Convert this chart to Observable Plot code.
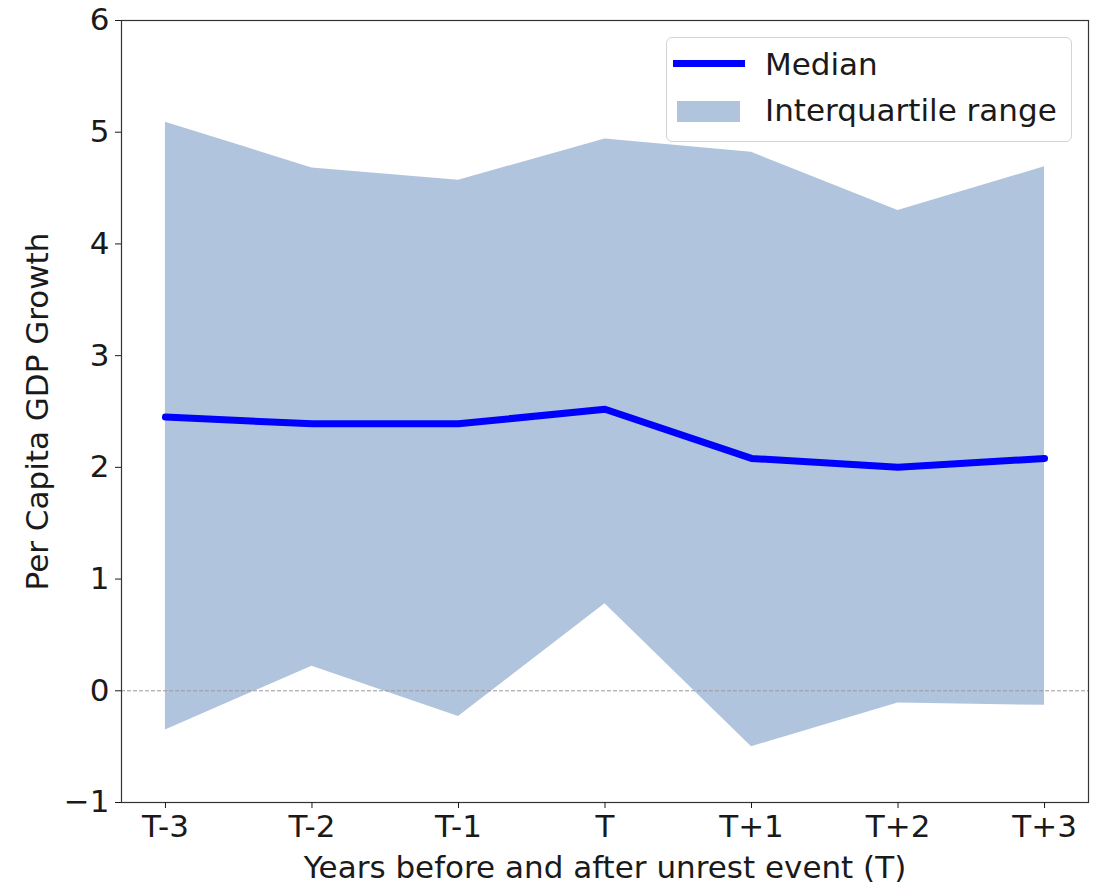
<!DOCTYPE html>
<html>
<head>
<meta charset="utf-8">
<script src="https://cdn.jsdelivr.net/npm/d3@7"></script>
<script src="https://cdn.jsdelivr.net/npm/@observablehq/plot@0.6"></script>
<style>
  body { margin: 0; background: white; font-family: "DejaVu Sans", sans-serif; }
  #wrap { position: relative; width: 1099px; height: 884px; }
  #legend { position: absolute; left: 666px; top: 37px; width: 404px; height: 103px;
    border: 1px solid #d4d4d4; border-radius: 6px; background: rgba(255,255,255,0.85);
    font-family: "DejaVu Sans", sans-serif; font-size: 31px; line-height: 31px; color: #1a1a1a; }
  .sw-line { position: absolute; left: 6px; width: 72px; height: 7px; background: #0000FF; }
  .sw-fill { position: absolute; left: 10px; width: 63px; height: 21px; background: #B0C4DE; }
  .lab { position: absolute; left: 98px; white-space: nowrap; }
</style>
</head>
<body>
<div id="wrap">
  <div id="chart"></div>
  <div id="legend">
    <div class="sw-line" style="top:22px"></div>
    <div class="lab" style="top:11px">Median</div>
    <div class="sw-fill" style="top:63px"></div>
    <div class="lab" style="top:57px">Interquartile range</div>
  </div>
</div>
<script>
const periods = ["T-3", "T-2", "T-1", "T", "T+1", "T+2", "T+3"];
const median = [2.45, 2.39, 2.39, 2.52, 2.08, 2.00, 2.08];
const q25 = [-0.35, 0.22, -0.23, 0.78, -0.50, -0.11, -0.13];
const q75 = [5.09, 4.68, 4.57, 4.94, 4.82, 4.30, 4.69];
const yTicks = [-1, 0, 1, 2, 3, 4, 5, 6];

const data = periods.map((p, i) => ({i, p, med: median[i], lo: q25[i], hi: q75[i]}));
const fmtY = d => d < 0 ? "\u2212" + (-d) : String(d);

const chart = Plot.plot({
  width: 1099,
  height: 884,
  marginLeft: 121,
  marginRight: 11,
  marginTop: 20,
  marginBottom: 82,
  style: {fontFamily: "DejaVu Sans, sans-serif", fontSize: "31px", color: "#1a1a1a", background: "white"},
  x: {domain: [-0.3, 6.3]},
  y: {domain: [-1, 6]},
  marks: [
    Plot.areaY(data, {x: "i", y1: "lo", y2: "hi", fill: "#B0C4DE"}),
    Plot.ruleY([0], {stroke: "#9a9a9a", strokeWidth: 1, strokeDasharray: "4,2"}),
    Plot.lineY(data, {x: "i", y: "med", stroke: "#0000FF", strokeWidth: 7, strokeLinejoin: "round"}),
    Plot.frame({stroke: "#333", strokeWidth: 1.2}),
    Plot.axisX({ticks: data.map(d => d.i), tickFormat: i => periods[i], tickSize: 6, tickPadding: 6,
      fontSize: 31, label: "Years before and after unrest event (T)", labelAnchor: "center",
      labelArrow: "none", labelOffset: 75}),
    Plot.axisY({ticks: yTicks, tickFormat: fmtY, tickSize: 6, tickPadding: 6, fontSize: 31,
      label: "Per Capita GDP Growth", labelAnchor: "center", labelArrow: "none", labelOffset: 96})
  ]
});
document.getElementById("chart").appendChild(chart);
</script>
</body>
</html>
